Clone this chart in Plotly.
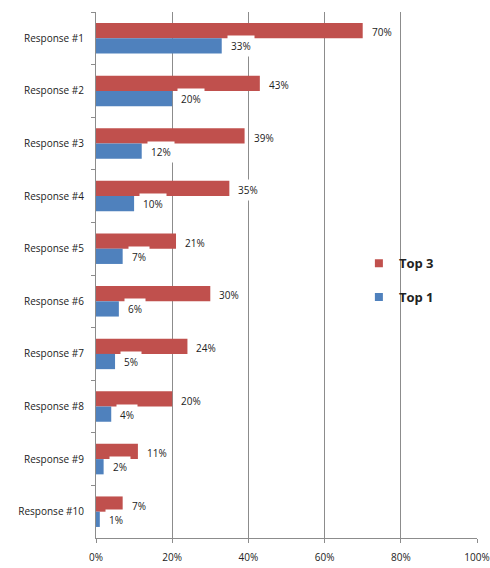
import plotly.graph_objects as go

responses = ["Response #1", "Response #2", "Response #3", "Response #4", "Response #5",
             "Response #6", "Response #7", "Response #8", "Response #9", "Response #10"]
top3 = [70, 43, 39, 35, 21, 30, 24, 20, 11, 7]
top1 = [33, 20, 12, 10, 7, 6, 5, 4, 2, 1]
x_ticks = [0, 20, 40, 60, 80, 100]

RED = "#C0504D"
BLUE = "#4F81BD"
FONT = "'Open Sans', Lato, sans-serif"

fig = go.Figure()
fig.add_trace(go.Bar(y=responses, x=top3, orientation="h", name="Top 3",
                     marker=dict(color=RED, line=dict(width=0)), showlegend=False))
fig.add_trace(go.Bar(y=responses, x=top1, orientation="h", name="Top 1",
                     marker=dict(color=BLUE, line=dict(width=0)), showlegend=False))

# legend entries with small square swatches
for name, color, grp in [("Top 3", RED, "a"), ("Top 1", BLUE, "b")]:
    fig.add_trace(go.Scatter(x=[None], y=[None], mode="markers", name=name,
                             legendgroup=grp,
                             marker=dict(symbol="square", size=8, color=color)))

annotations = []
# value labels with a white fill, to the right of each bar end
for cat, v3, v1 in zip(responses, top3, top1):
    annotations.append(dict(x=v3, y=cat, xref="x", yref="y", text=f"{v3}%",
                            showarrow=False, xanchor="left", yanchor="middle",
                            xshift=5, yshift=6, bgcolor="white", borderpad=3,
                            font=dict(family=FONT, size=10, color="#222")))
    annotations.append(dict(x=v1, y=cat, xref="x", yref="y", text=f"{v1}%",
                            showarrow=False, xanchor="left", yanchor="middle",
                            xshift=5, yshift=-8, bgcolor="white", borderpad=3,
                            font=dict(family=FONT, size=10, color="#222")))

fig.update_layout(
    width=490, height=568,
    margin=dict(l=96, r=13, t=12, b=30),
    paper_bgcolor="white", plot_bgcolor="white",
    barmode="group", bargap=0.42, bargroupgap=0,
    font=dict(family=FONT, size=10, color="#222"),
    legend=dict(x=0.69, y=0.49, xanchor="left", yanchor="middle",
                font=dict(family=FONT, size=13, color="#222", weight="bold"),
                tracegroupgap=14, bgcolor="rgba(0,0,0,0)", itemwidth=30),
    annotations=annotations,
)
fig.update_xaxes(range=[0, 100], tickvals=x_ticks,
                 ticktext=[f"{t}%" for t in x_ticks],
                 showgrid=True, gridcolor="#8c8c8c", gridwidth=1,
                 showline=True, linecolor="#8c8c8c", linewidth=1,
                 ticks="outside", ticklen=4, tickcolor="#8c8c8c",
                 ticklabelstandoff=6, automargin=False,
                 zeroline=False, tickfont=dict(size=10))
fig.update_yaxes(categoryorder="array", categoryarray=responses,
                 autorange="reversed", showgrid=False,
                 showline=True, linecolor="#8c8c8c", linewidth=1,
                 ticks="outside", ticklen=4, tickcolor="#8c8c8c",
                 tickson="boundaries", ticklabelstandoff=9, automargin=False,
                 tickfont=dict(size=10))

fig.write_html("out.html")
